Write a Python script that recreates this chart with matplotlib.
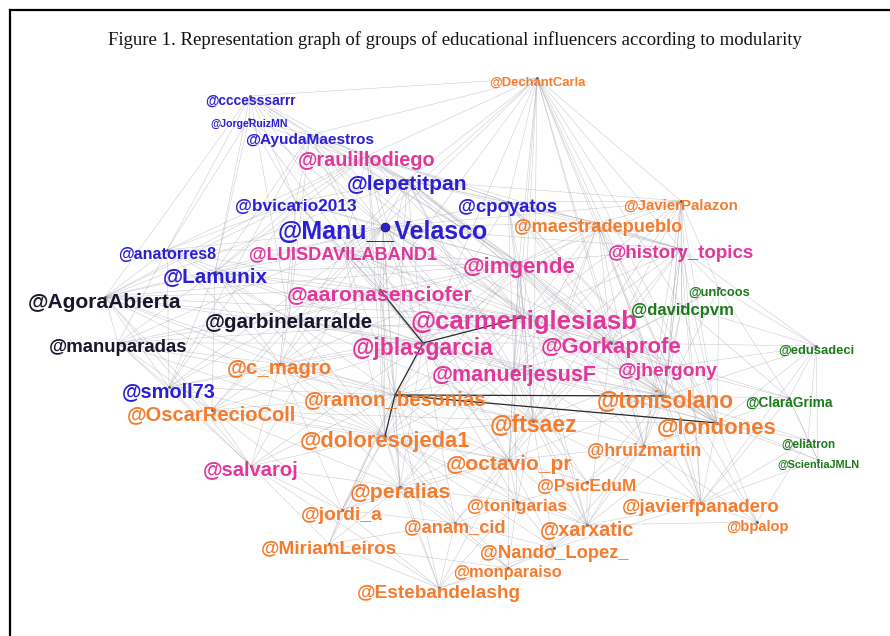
import matplotlib
matplotlib.use("Agg")
import matplotlib.pyplot as plt
from matplotlib.lines import Line2D
from matplotlib.collections import LineCollection

TITLE = "Figure 1. Representation graph of groups of educational influencers according to modularity"

# node name, layout x, layout y (pixel space of the original layout), label weight, community
names = ["cccesssarrr", "JorgeRuizMN", "AyudaMaestros", "lepetitpan", "bvicario2013",
         "cpoyatos", "Manu__Velasco", "anatorres8", "Lamunix", "smoll73",
         "raulillodiego", "LUISDAVILABAND1", "imgende", "history_topics", "aaronasenciofer",
         "carmeniglesiasb", "jblasgarcia", "Gorkaprofe", "manueljesusF", "jhergony", "salvaroj",
         "AgoraAbierta", "garbinelarralde", "manuparadas",
         "DechantCarla", "JavierPalazon", "maestradepueblo", "c_magro", "ramon_besonias",
         "tonisolano", "OscarRecioColl", "ftsaez", "londones", "doloresojeda1", "hruizmartin",
         "octavio_pr", "peralias", "PsicEduM", "tonigarias", "javierfpanadero", "bpalop",
         "jordi_a", "anam_cid", "xarxatic", "MiriamLeiros", "Nando_Lopez_", "monparaiso",
         "Estebandelashg",
         "unicoos", "davidcpvm", "edusadeci", "ClaraGrima", "eliatron", "ScientiaJMLN"]
node_x = [250, 249, 310, 407, 296, 508, 383, 167, 215, 169,
          367, 343, 519, 681, 380, 524, 423, 611, 514, 668, 251,
          105, 289, 118,
          537, 681, 598, 280, 395, 665, 212, 533, 717, 385, 644,
          509, 400, 587, 517, 701, 757,
          342, 455, 587, 329, 554, 508,
          439,
          719, 682, 816, 789, 808, 818]
node_y = [101, 124, 140, 185, 207, 207, 232, 255, 277, 392,
          161, 255, 268, 254, 295, 322, 348, 348, 376, 372, 471,
          302, 323, 348,
          83, 206, 228, 369, 400, 401, 415, 426, 428, 441, 451,
          465, 492, 487, 507, 508, 527,
          515, 528, 530, 549, 553, 573,
          593,
          293, 311, 351, 403, 445, 465]
weight = [9.9, 7.6, 11.1, 15.2, 12.4, 13.3, 18.0, 11.6, 14.9, 14.4,
          14.3, 13.1, 16.0, 13.5, 15.3, 18.5, 16.5, 15.9, 15.5, 13.9, 14.5,
          15.1, 14.8, 13.4,
          9.4, 10.8, 13.1, 14.8, 14.8, 16.4, 14.5, 16.6, 15.9, 15.8, 12.8,
          15.0, 15.3, 12.4, 12.5, 13.5, 10.5,
          13.9, 13.1, 14.2, 13.6, 13.2, 11.8,
          13.7,
          9.3, 12.0, 9.4, 9.9, 8.5, 7.8]
community = (["blue"] * 10 + ["pink"] * 11 + ["dark"] * 3 + ["orange"] * 24 + ["green"] * 6)

# adjacency (undirected)
adjacency = {
    "cccesssarrr": "JorgeRuizMN AyudaMaestros Manu__Velasco lepetitpan bvicario2013 Lamunix anatorres8 DechantCarla carmeniglesiasb jblasgarcia imgende garbinelarralde AgoraAbierta",
    "JorgeRuizMN": "AyudaMaestros Manu__Velasco lepetitpan bvicario2013 anatorres8 Lamunix jblasgarcia",
    "AyudaMaestros": "Manu__Velasco lepetitpan raulillodiego bvicario2013 cpoyatos DechantCarla imgende carmeniglesiasb jblasgarcia aaronasenciofer garbinelarralde smoll73 Lamunix",
    "DechantCarla": "raulillodiego lepetitpan cpoyatos Manu__Velasco maestradepueblo imgende history_topics JavierPalazon carmeniglesiasb Gorkaprofe manueljesusF tonisolano ftsaez londones jhergony aaronasenciofer jblasgarcia LUISDAVILABAND1 hruizmartin davidcpvm",
    "raulillodiego": "lepetitpan Manu__Velasco bvicario2013 cpoyatos LUISDAVILABAND1 imgende aaronasenciofer carmeniglesiasb jblasgarcia Gorkaprofe history_topics AgoraAbierta anatorres8 Lamunix doloresojeda1",
    "lepetitpan": "Manu__Velasco cpoyatos bvicario2013 imgende maestradepueblo carmeniglesiasb jblasgarcia Gorkaprofe manueljesusF tonisolano history_topics JavierPalazon LUISDAVILABAND1 aaronasenciofer ftsaez londones ramon_besonias AgoraAbierta",
    "bvicario2013": "Manu__Velasco LUISDAVILABAND1 Lamunix anatorres8 aaronasenciofer jblasgarcia garbinelarralde imgende AgoraAbierta smoll73 c_magro",
    "cpoyatos": "Manu__Velasco imgende maestradepueblo history_topics JavierPalazon carmeniglesiasb Gorkaprofe jblasgarcia manueljesusF tonisolano ftsaez londones jhergony",
    "Manu__Velasco": "LUISDAVILABAND1 imgende aaronasenciofer carmeniglesiasb jblasgarcia Gorkaprofe manueljesusF Lamunix anatorres8 AgoraAbierta garbinelarralde manuparadas smoll73 maestradepueblo history_topics tonisolano ftsaez londones doloresojeda1 ramon_besonias c_magro octavio_pr peralias salvaroj OscarRecioColl JavierPalazon",
    "anatorres8": "Lamunix AgoraAbierta LUISDAVILABAND1 garbinelarralde aaronasenciofer jblasgarcia manuparadas smoll73 c_magro",
    "Lamunix": "AgoraAbierta garbinelarralde aaronasenciofer jblasgarcia LUISDAVILABAND1 smoll73 manuparadas carmeniglesiasb imgende c_magro OscarRecioColl doloresojeda1",
    "AgoraAbierta": "garbinelarralde manuparadas smoll73 OscarRecioColl c_magro aaronasenciofer jblasgarcia carmeniglesiasb ramon_besonias doloresojeda1 salvaroj imgende",
    "garbinelarralde": "manuparadas aaronasenciofer jblasgarcia carmeniglesiasb imgende c_magro ramon_besonias doloresojeda1 smoll73 OscarRecioColl manueljesusF tonisolano ftsaez Gorkaprofe",
    "manuparadas": "smoll73 c_magro OscarRecioColl jblasgarcia aaronasenciofer doloresojeda1 ramon_besonias salvaroj carmeniglesiasb",
    "smoll73": "OscarRecioColl c_magro salvaroj doloresojeda1 ramon_besonias jblasgarcia",
    "OscarRecioColl": "c_magro salvaroj doloresojeda1 ramon_besonias jblasgarcia peralias jordi_a ftsaez octavio_pr",
    "LUISDAVILABAND1": "imgende aaronasenciofer carmeniglesiasb jblasgarcia manueljesusF Gorkaprofe c_magro ramon_besonias doloresojeda1 tonisolano",
    "imgende": "aaronasenciofer carmeniglesiasb jblasgarcia Gorkaprofe manueljesusF maestradepueblo history_topics JavierPalazon tonisolano ftsaez londones jhergony ramon_besonias doloresojeda1 octavio_pr hruizmartin c_magro xarxatic",
    "maestradepueblo": "history_topics JavierPalazon carmeniglesiasb Gorkaprofe manueljesusF tonisolano ftsaez londones jhergony jblasgarcia hruizmartin javierfpanadero octavio_pr",
    "JavierPalazon": "history_topics Gorkaprofe jhergony tonisolano londones ftsaez davidcpvm unicoos hruizmartin javierfpanadero manueljesusF carmeniglesiasb",
    "history_topics": "Gorkaprofe jhergony tonisolano londones ftsaez unicoos davidcpvm manueljesusF carmeniglesiasb hruizmartin javierfpanadero edusadeci",
    "aaronasenciofer": "carmeniglesiasb jblasgarcia manueljesusF Gorkaprofe ramon_besonias doloresojeda1 c_magro ftsaez tonisolano octavio_pr peralias",
    "carmeniglesiasb": "jblasgarcia Gorkaprofe manueljesusF jhergony tonisolano ftsaez londones ramon_besonias doloresojeda1 octavio_pr hruizmartin peralias xarxatic c_magro",
    "jblasgarcia": "manueljesusF Gorkaprofe ramon_besonias doloresojeda1 c_magro ftsaez tonisolano londones octavio_pr peralias jordi_a anam_cid salvaroj tonigarias xarxatic",
    "Gorkaprofe": "manueljesusF jhergony tonisolano ftsaez londones hruizmartin davidcpvm unicoos ClaraGrima javierfpanadero octavio_pr xarxatic edusadeci",
    "manueljesusF": "jhergony tonisolano ftsaez londones ramon_besonias doloresojeda1 octavio_pr hruizmartin PsicEduM tonigarias xarxatic peralias",
    "jhergony": "tonisolano londones ftsaez hruizmartin javierfpanadero davidcpvm ClaraGrima edusadeci bpalop",
    "c_magro": "ramon_besonias doloresojeda1 salvaroj peralias jordi_a octavio_pr ftsaez",
    "ramon_besonias": "doloresojeda1 tonisolano londones ftsaez octavio_pr peralias salvaroj jordi_a anam_cid MiriamLeiros Estebandelashg tonigarias",
    "doloresojeda1": "ftsaez octavio_pr peralias salvaroj jordi_a anam_cid MiriamLeiros Estebandelashg xarxatic tonigarias Nando_Lopez_ monparaiso",
    "tonisolano": "londones ftsaez hruizmartin javierfpanadero ClaraGrima davidcpvm unicoos edusadeci eliatron ScientiaJMLN bpalop xarxatic octavio_pr PsicEduM",
    "londones": "ftsaez hruizmartin javierfpanadero ClaraGrima edusadeci eliatron ScientiaJMLN bpalop davidcpvm unicoos xarxatic",
    "ftsaez": "octavio_pr hruizmartin PsicEduM tonigarias xarxatic peralias anam_cid Nando_Lopez_ javierfpanadero",
    "hruizmartin": "octavio_pr PsicEduM xarxatic javierfpanadero bpalop Nando_Lopez_",
    "octavio_pr": "peralias PsicEduM tonigarias anam_cid xarxatic Nando_Lopez_ monparaiso Estebandelashg jordi_a",
    "peralias": "jordi_a anam_cid MiriamLeiros Estebandelashg tonigarias monparaiso salvaroj",
    "salvaroj": "jordi_a MiriamLeiros Estebandelashg peralias",
    "jordi_a": "MiriamLeiros anam_cid Estebandelashg",
    "anam_cid": "Estebandelashg monparaiso tonigarias Nando_Lopez_ MiriamLeiros",
    "tonigarias": "PsicEduM xarxatic Nando_Lopez_ monparaiso Estebandelashg",
    "xarxatic": "Nando_Lopez_ PsicEduM javierfpanadero monparaiso bpalop",
    "Nando_Lopez_": "monparaiso Estebandelashg javierfpanadero",
    "MiriamLeiros": "Estebandelashg monparaiso",
    "monparaiso": "Estebandelashg",
    "javierfpanadero": "bpalop PsicEduM ClaraGrima eliatron ScientiaJMLN edusadeci",
    "unicoos": "davidcpvm edusadeci ClaraGrima",
    "davidcpvm": "edusadeci ClaraGrima",
    "edusadeci": "ClaraGrima eliatron ScientiaJMLN",
    "ClaraGrima": "eliatron ScientiaJMLN",
    "eliatron": "ScientiaJMLN bpalop",
}

# strongest ties (drawn darker)
strong_edges = [("aaronasenciofer", "jblasgarcia"), ("jblasgarcia", "ramon_besonias"),
                ("ramon_besonias", "doloresojeda1"), ("ramon_besonias", "tonisolano"),
                ("ramon_besonias", "londones"), ("jblasgarcia", "carmeniglesiasb")]

colors = {"blue": "#2b1fd4", "pink": "#e2369c", "dark": "#16162c",
          "orange": "#f47c2e", "green": "#1c7a1c"}

# node dot sits a little above the centre of its label
DOT_LIFT = 5
pos = {n: (x, y - DOT_LIFT) for n, x, y in zip(names, node_x, node_y)}

fig = plt.figure(figsize=(8.9, 6.36), dpi=100)
ax = fig.add_axes([0, 0, 1, 1])
ax.set_xlim(0, 890)
ax.set_ylim(636, 0)
ax.axis("off")

# light edges
seen = set()
segs = []
for src, dsts in adjacency.items():
    for dst in dsts.split():
        key = tuple(sorted((src, dst)))
        if key in seen:
            continue
        seen.add(key)
        segs.append([pos[src], pos[dst]])
ax.add_collection(LineCollection(segs, colors="#9a9aa6", linewidths=0.35, alpha=0.55, zorder=1))
ax.add_collection(LineCollection([[pos[a], pos[b]] for a, b in strong_edges],
                                 colors="#2a2a2a", linewidths=0.9, zorder=2))

# nodes
ax.scatter([p[0] for p in pos.values()], [p[1] for p in pos.values()], s=4,
           c="#555555", zorder=2, linewidths=0)
mx, my = pos["Manu__Velasco"]
ax.scatter([mx + 2], [my], s=40, c=colors["blue"], zorder=3,
           edgecolors="#111", linewidths=0.5)

# labels
for n, x, y, w, c in zip(names, node_x, node_y, weight, community):
    ax.text(x, y, "@" + n, ha="center", va="center", fontsize=w, fontweight="bold",
            family="Liberation Sans", color=colors[c], zorder=4)

fig.text(455 / 890, 1 - 40 / 636, TITLE, ha="center", va="center", fontsize=13.5,
         family="Liberation Serif", color="#111")

# frame lines (top and left)
fig.add_artist(Line2D([10 / 890, 1], [1 - 10 / 636, 1 - 10 / 636], color="black", lw=1.6))
fig.add_artist(Line2D([10 / 890, 10 / 890], [0, 1 - 10 / 636], color="black", lw=1.6))

fig.savefig("out.png", dpi=100)
